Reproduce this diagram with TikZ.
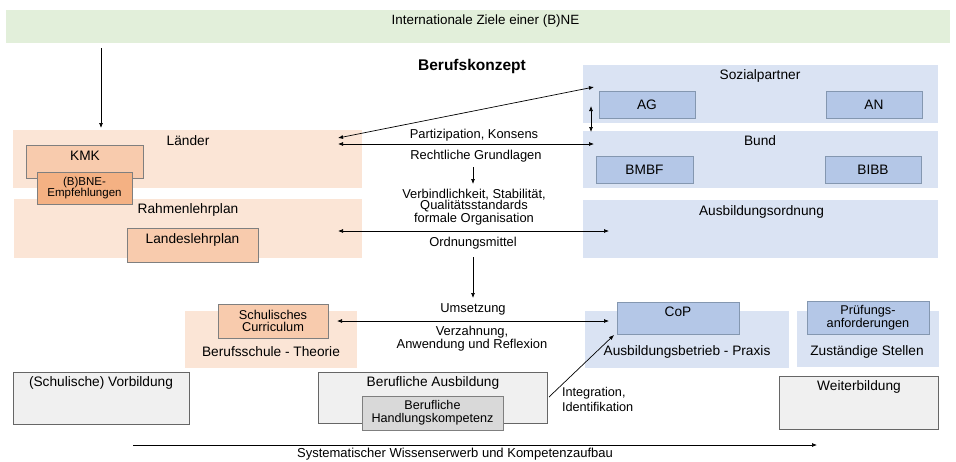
\documentclass[tikz,border=0pt]{standalone}
\usepackage{fontspec}
\setmainfont{Liberation Sans}
\usetikzlibrary{arrows.meta}
\definecolor{greenfill}{HTML}{E2EFDA}
\definecolor{peach}{HTML}{FBE5D6}
\definecolor{kmkfill}{HTML}{F8CBAD}
\definecolor{bnefill}{HTML}{F4B183}
\definecolor{blueband}{HTML}{DAE3F3}
\definecolor{bluebox}{HTML}{B4C7E7}
\definecolor{greyfill}{HTML}{F0F0F0}
\definecolor{hkfill}{HTML}{D9D9D9}
\definecolor{bordergrey}{HTML}{7F7F7F}
\definecolor{borderblue}{HTML}{8497B0}
\begin{document}
\begin{tikzpicture}[x=1pt,y=-1pt,
  every node/.style={inner sep=0pt,outer sep=0pt},
  rectnode/.style={anchor=north west,rectangle,font=\fontsize{13.7}{13.7}\selectfont,align=center},
  greenband/.style={rectnode,fill=greenfill},
  peachband/.style={rectnode,fill=peach},
  blueband/.style={rectnode,fill=blueband},
  orangebox/.style={rectnode,fill=kmkfill,draw=bordergrey,line width=0.8pt},
  bnebox/.style={rectnode,fill=bnefill,draw=bordergrey,line width=0.8pt},
  bluebx/.style={rectnode,fill=bluebox,draw=borderblue,line width=0.8pt},
  greybox/.style={rectnode,fill=greyfill,draw=bordergrey!80!black,line width=0.8pt},
  hkbox/.style={rectnode,fill=hkfill,draw=bordergrey,line width=0.8pt},
  lbl/.style={font=\fontsize{13.7}{13.7}\selectfont,align=center},
  txt/.style={font=\fontsize{12.9}{12}\selectfont,align=center},
  arr/.style={-{Latex[length=5pt,width=4pt]},line width=0.7pt},
  darr/.style={{Latex[length=5pt,width=4pt]}-{Latex[length=5pt,width=4pt]},line width=0.7pt}]
\useasboundingbox (0,0) rectangle (956,461);
% top band
\node[greenband,minimum width=944pt,minimum height=33pt] (green) at (6,10) {};
\node[font=\fontsize{13.4}{13.4}\selectfont] (tgreen) at (485.5,21) {Internationale Ziele einer (B)NE};
\node[font=\fontsize{15.5}{16}\selectfont\bfseries] (berufskonzept) at (472,66) {Berufskonzept};
% left bands
\node[peachband,minimum width=349pt,minimum height=58pt] (laender) at (13,130) {};
\node[peachband,minimum width=348pt,minimum height=59pt] (rahmen) at (14,199) {};
\node[lbl] (tlaender) at (188,141) {Länder};
\node[orangebox,minimum width=117pt,minimum height=33pt] (kmk) at (26,145) {};
\node[lbl] (tkmk) at (85,156) {KMK};
\node[bnebox,minimum width=95pt,minimum height=32pt,font=\fontsize{11.5}{10.5}\selectfont] (bne) at (37,172) {(B)BNE-\\Empfehlungen};
\node[lbl] (trahmen) at (188,210) {Rahmenlehrplan};
\node[orangebox,minimum width=131pt,minimum height=34pt] (landes) at (127,228) {};
\node[lbl] (tlandes) at (192.5,240) {Landeslehrplan};
% right bands
\node[blueband,minimum width=355pt,minimum height=58pt] (sozial) at (583,65) {};
\node[lbl] (tsozial) at (760,76) {Sozialpartner};
\node[bluebx,minimum width=96pt,minimum height=27pt] (ag) at (599,91) {AG};
\node[bluebx,minimum width=96pt,minimum height=27pt] (an) at (826,91) {AN};
\node[blueband,minimum width=355pt,minimum height=57pt] (bund) at (583,131) {};
\node[lbl] (tbund) at (760,141) {Bund};
\node[bluebx,minimum width=97pt,minimum height=27pt] (bmbf) at (596,156) {BMBF};
\node[bluebx,minimum width=96pt,minimum height=27pt] (bibb) at (825,156) {BIBB};
\node[blueband,minimum width=355pt,minimum height=58pt] (ausbo) at (583,200) {};
\node[lbl] (tausbo) at (761.5,212) {Ausbildungsordnung};
% lower row
\node[peachband,minimum width=172pt,minimum height=57pt] (bschule) at (185,311) {};
\node[orangebox,minimum width=110pt,minimum height=34pt,font=\fontsize{12.8}{12.3}\selectfont] (curr) at (218,304) {Schulisches\\Curriculum};
\node[lbl] (tbschule) at (271,352) {Berufsschule - Theorie};
\node[blueband,minimum width=204pt,minimum height=57pt] (betrieb) at (585,311) {};
\node[bluebx,minimum width=122pt,minimum height=32pt] (cop) at (617,302) {};
\node[lbl] (tcop) at (678,312) {CoP};
\node[lbl] (tbetrieb) at (687,352) {Ausbildungsbetrieb - Praxis};
\node[blueband,minimum width=142pt,minimum height=56pt] (zust) at (797,311) {};
\node[bluebx,minimum width=122pt,minimum height=33pt,font=\fontsize{12.7}{12.7}\selectfont] (pruef) at (807,301) {Prüfungs-\\anforderungen};
\node[lbl] (tzust) at (867,352) {Zuständige Stellen};
% grey boxes
\node[greybox,minimum width=176pt,minimum height=52pt] (vorb) at (13,372) {};
\node[lbl] (tvorb) at (101,383) {(Schulische) Vorbildung};
\node[greybox,minimum width=229pt,minimum height=51pt] (bausb) at (318,372) {};
\node[lbl] (tbausb) at (433,383) {Berufliche Ausbildung};
\node[hkbox,minimum width=141pt,minimum height=34pt,font=\fontsize{12.6}{13}\selectfont] (hk) at (362,396) {Berufliche\\Handlungskompetenz};
\node[greybox,minimum width=159pt,minimum height=53pt] (weiter) at (779,376) {};
\node[lbl] (tweiter) at (859,387) {Weiterbildung};
% centre labels
\node[txt] (lpart) at (474,135) {Partizipation, Konsens};
\node[txt] (lrecht) at (476,156) {Rechtliche Grundlagen};
\node[txt,font=\fontsize{12.9}{11.6}\selectfont] (lverb) at (474,207) {Verbindlichkeit, Stabilität,\\Qualitätsstandards\\formale Organisation};
\node[txt] (lord) at (473,243) {Ordnungsmittel};
\node[txt] (lums) at (473,309) {Umsetzung};
\node[txt,font=\fontsize{12.9}{13}\selectfont] (lverz) at (472,338.5) {Verzahnung,\\Anwendung und Reflexion};
\node[txt,align=left,anchor=west,font=\fontsize{12.7}{14.3}\selectfont] (lint) at (562,399.5) {Integration,\\Identifikation};
\node[txt,anchor=base,font=\fontsize{13}{13}\selectfont] (lsys) at (455,457.5) {Systematischer Wissenserwerb und Kompetenzaufbau};
% connector end points
\coordinate (c1a) at (101,48);   \coordinate (c1b) at (101,128);
\coordinate (c2a) at (338,138);  \coordinate (c2b) at (594,87);
\coordinate (c3a) at (338,144);  \coordinate (c3b) at (594,144);
\coordinate (c4a) at (473,167);  \coordinate (c4b) at (473,184);
\coordinate (c5a) at (338,231);  \coordinate (c5b) at (609,231);
\coordinate (c6a) at (473,257);  \coordinate (c6b) at (473,298);
\coordinate (c7a) at (337,321);  \coordinate (c7b) at (609,321);
\coordinate (c8a) at (591,106);  \coordinate (c8b) at (591,132);
\coordinate (c9a) at (549,397);  \coordinate (c9b) at (614,335);
\coordinate (c10a) at (133,445); \coordinate (c10b) at (817,445);
% connectors
\draw[arr] (c1a) -- (c1b);
\draw[darr] (c2a) -- (c2b);
\draw[darr] (c3a) -- (c3b);
\draw[arr] (c4a) -- (c4b);
\draw[darr] (c5a) -- (c5b);
\draw[arr] (c6a) -- (c6b);
\draw[darr] (c7a) -- (c7b);
\draw[darr] (c8a) -- (c8b);
\draw[arr] (c9a) -- (c9b);
\draw[arr] (c10a) -- (c10b);
\end{tikzpicture}
\end{document}
